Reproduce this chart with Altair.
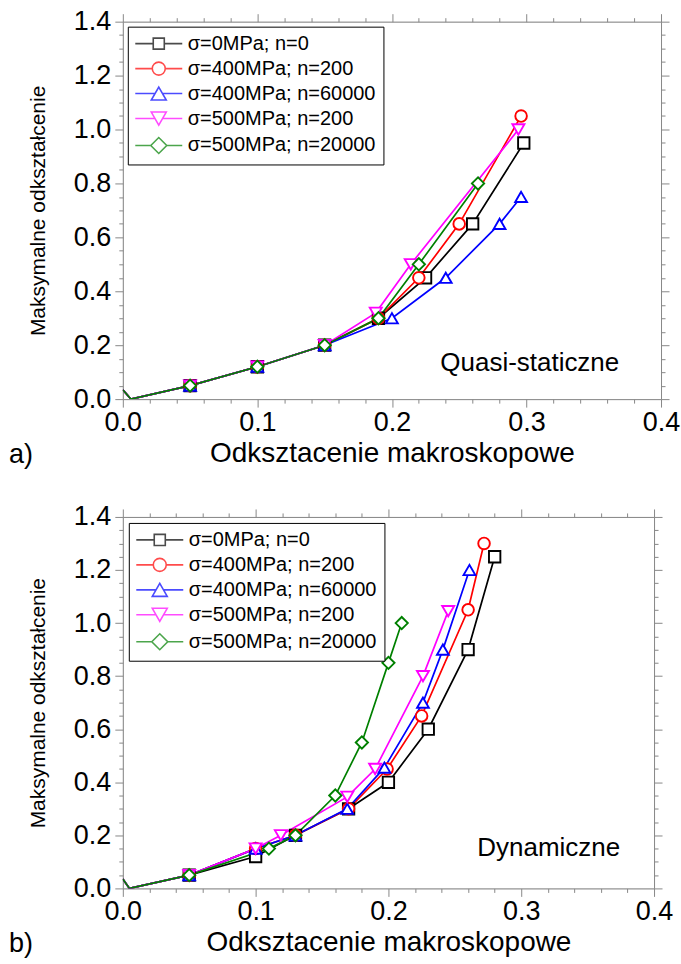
import altair as alt
import pandas as pd

SERIES = ["σ=0MPa; n=0", "σ=400MPa; n=200", "σ=400MPa; n=60000",
          "σ=500MPa; n=200", "σ=500MPa; n=20000"]
COLORS = ["#000000", "#ff0000", "#0000ff", "#ff00ff", "#008000"]
SHAPES = ["square", "circle", "triangle-up", "triangle-down", "diamond"]
SIZES = [130, 150, 250, 250, 290]

# legend symbols: marker with a line through it (unit = 7 px)
LEG_PATHS = [
    "M-3.36,0L-0.79,0M0.79,0L3.36,0M-0.79,-0.79L0.79,-0.79L0.79,0.79L-0.79,0.79Z",
    "M-3.36,0L-0.93,0M0.93,0L3.36,0M0.93,0A0.93,0.93,0,1,1,-0.93,0A0.93,0.93,0,1,1,0.93,0Z",
    "M-3.36,0L-0.54,0M0.54,0L3.36,0M0,-0.93L1.07,0.93L-1.07,0.93Z",
    "M-3.36,0L-0.54,0M0.54,0L3.36,0M0,0.93L1.07,-0.93L-1.07,-0.93Z",
    "M-3.36,0L-1.14,0M1.14,0L3.36,0M-1.14,0L0,-1.14L1.14,0L0,1.14Z",
]

# ---- panel a) Quasi-statyczne ----
a_x0 = [0.0, 0.006, 0.05, 0.10, 0.15, 0.19, 0.225, 0.26, 0.298]
a_y0 = [0.035, 0.0, 0.05, 0.12, 0.20, 0.30, 0.45, 0.65, 0.95]
a_x1 = [0.0, 0.006, 0.05, 0.10, 0.15, 0.19, 0.22, 0.25, 0.296]
a_y1 = [0.035, 0.0, 0.05, 0.12, 0.20, 0.30, 0.45, 0.65, 1.05]
a_x2 = [0.0, 0.006, 0.05, 0.10, 0.15, 0.20, 0.24, 0.28, 0.296]
a_y2 = [0.035, 0.0, 0.05, 0.12, 0.20, 0.30, 0.45, 0.65, 0.75]
a_x3 = [0.0, 0.006, 0.05, 0.10, 0.15, 0.188, 0.214, 0.294]
a_y3 = [0.035, 0.0, 0.05, 0.12, 0.20, 0.32, 0.50, 1.00]
a_x4 = [0.0, 0.006, 0.05, 0.10, 0.15, 0.19, 0.22, 0.264]
a_y4 = [0.035, 0.0, 0.05, 0.12, 0.20, 0.30, 0.50, 0.80]

# ---- panel b) Dynamiczne ----
b_x0 = [0.0, 0.005, 0.05, 0.10, 0.13, 0.17, 0.20, 0.23, 0.26, 0.28]
b_y0 = [0.035, 0.0, 0.05, 0.12, 0.20, 0.30, 0.40, 0.60, 0.90, 1.25]
b_x1 = [0.0, 0.005, 0.05, 0.10, 0.13, 0.17, 0.199, 0.225, 0.26, 0.272]
b_y1 = [0.035, 0.0, 0.05, 0.15, 0.20, 0.30, 0.45, 0.65, 1.05, 1.30]
b_x2 = [0.0, 0.005, 0.05, 0.10, 0.13, 0.169, 0.197, 0.226, 0.241, 0.261]
b_y2 = [0.035, 0.0, 0.05, 0.15, 0.20, 0.30, 0.455, 0.70, 0.90, 1.20]
b_x3 = [0.0, 0.005, 0.05, 0.10, 0.119, 0.169, 0.19, 0.226, 0.245]
b_y3 = [0.035, 0.0, 0.05, 0.15, 0.20, 0.345, 0.45, 0.80, 1.045]
b_x4 = [0.0, 0.005, 0.05, 0.11, 0.13, 0.16, 0.18, 0.20, 0.21]
b_y4 = [0.035, 0.0, 0.05, 0.15, 0.20, 0.35, 0.55, 0.85, 1.00]

X_TICKS = [round(i * 0.02, 2) for i in range(21)]
Y_TICKS = [round(i * 0.05, 2) for i in range(29)]
X_TITLE = "Odksztacenie makroskopowe"
Y_TITLE = "Maksymalne odkształcenie"
ANNOT_A = ["Quasi-staticzne"]
ANNOT_B = ["Dynamiczne"]
LABEL_A = ["a)"]
LABEL_B = ["b)"]

FONT = "Liberation Sans"
X_MAJOR = "abs(datum.value*10 - round(datum.value*10)) < 0.001"
Y_MAJOR = "abs(datum.value*5 - round(datum.value*5)) < 0.001"


def build_df(xs, ys):
    rows = []
    for s, xv, yv in zip(SERIES, xs, ys):
        for i, (a, b) in enumerate(zip(xv, yv)):
            rows.append({"series": s, "x": a, "y": b, "idx": i})
    return pd.DataFrame(rows)


def x_axis(orient, labels, title=None):
    kw = dict(orient=orient, values=X_TICKS, labels=labels, tickSize=8,
              tickDash={"condition": {"test": "!(" + X_MAJOR + ")", "value": [4, 30]},
                        "value": [10, 0]},
              grid=False, labelOverlap=False, labelFlush=False,
              labelExpr="(" + X_MAJOR + ") ? format(datum.value, '.1f') : ''",
              labelPadding=2, labelFontSize=27, labelFont=FONT)
    if title:
        kw.update(title=title, titleFontSize=28, titleFont=FONT,
                  titleFontWeight="normal", titlePadding=4)
    else:
        kw.update(title=None)
    return alt.Axis(**kw)


def y_axis(orient, labels, title=None):
    kw = dict(orient=orient, values=Y_TICKS, labels=labels, tickSize=8,
              tickDash={"condition": {"test": "!(" + Y_MAJOR + ")", "value": [4, 30]},
                        "value": [10, 0]},
              grid=False, labelOverlap=False, labelFlush=False,
              labelExpr="(" + Y_MAJOR + ") ? format(datum.value, '.1f') : ''",
              labelPadding=4, labelFontSize=27, labelFont=FONT)
    if title:
        kw.update(title=title, titleFontSize=21, titleFont=FONT,
                  titleFontWeight="normal", titlePadding=25)
    else:
        kw.update(title=None)
    return alt.Axis(**kw)


def panel(df, w, h, annot, annot_xy, label, label_xy, legend_xy):
    xs = alt.Scale(domain=[0, 0.4], nice=False, zero=False)
    ys = alt.Scale(domain=[0, 1.4], nice=False, zero=False)
    cscale = alt.Scale(domain=SERIES, range=COLORS)
    base = alt.Chart(df)

    lines = base.mark_line(strokeWidth=1.7, clip=True).encode(
        x=alt.X("x:Q", scale=xs, axis=x_axis("top", False)),
        y=alt.Y("y:Q", scale=ys, axis=y_axis("right", False)),
        color=alt.Color("series:N", scale=cscale, legend=None),
        order="idx:Q",
    )
    points = base.transform_filter("datum.x > 0.02").mark_point(
        filled=False, fill="white", strokeWidth=1.9, opacity=1, clip=True
    ).encode(
        x=alt.X("x:Q", scale=xs, axis=x_axis("bottom", True, X_TITLE)),
        y=alt.Y("y:Q", scale=ys, axis=y_axis("left", True, Y_TITLE)),
        color=alt.Color("series:N", scale=cscale, legend=None),
        shape=alt.Shape("series:N", scale=alt.Scale(domain=SERIES, range=SHAPES), legend=None),
        size=alt.Size("series:O", scale=alt.Scale(domain=SERIES, range=SIZES), legend=None),
    )
    leg = alt.Legend(orient="none", legendX=legend_xy[0], legendY=legend_xy[1], title=None,
                     labelFont=FONT, labelFontSize=20, labelColor="black",
                     symbolSize=196, symbolStrokeWidth=1.6, strokeColor="black",
                     fillColor="white", padding=7, rowPadding=5, symbolOffset=14,
                     labelOffset=19, labelLimit=400)
    legend_layer = base.transform_filter("datum.x < -1").mark_point(
        filled=False, strokeWidth=1.6
    ).encode(
        x=alt.X("x:Q", scale=xs, axis=None),
        y=alt.Y("y:Q", scale=ys, axis=None),
        color=alt.Color("series:N", scale=cscale, legend=leg),
        shape=alt.Shape("series:N", scale=alt.Scale(domain=SERIES, range=LEG_PATHS), legend=leg),
    )
    annot_layer = alt.Chart(pd.DataFrame({"t": annot})).mark_text(
        align="left", baseline="middle", fontSize=26, font=FONT, color="black"
    ).encode(text="t:N", x=alt.value(annot_xy[0]), y=alt.value(annot_xy[1]))
    label_layer = alt.Chart(pd.DataFrame({"t": label})).mark_text(
        align="left", baseline="middle", fontSize=27, font=FONT, color="black"
    ).encode(text="t:N", x=alt.value(label_xy[0]), y=alt.value(label_xy[1]))

    return alt.layer(lines, points, legend_layer, annot_layer, label_layer).resolve_scale(
        color="independent", shape="independent", size="independent"
    ).resolve_axis(x="independent", y="independent").properties(width=w, height=h)


df_a = build_df([a_x0, a_x1, a_x2, a_x3, a_x4], [a_y0, a_y1, a_y2, a_y3, a_y4])
df_b = build_df([b_x0, b_x1, b_x2, b_x3, b_x4], [b_y0, b_y1, b_y2, b_y3, b_y4])

top = panel(df_a, 539, 378, ANNOT_A, (318, 342), LABEL_A, (-114, 434), (5, 5))
bottom = panel(df_b, 532, 372, ANNOT_B, (355, 332), LABEL_B, (-114, 428), (6, 6))

chart = alt.vconcat(top, bottom, spacing=33).resolve_scale(
    color="independent", shape="independent", size="independent"
).properties(
    padding={"left": 8, "top": 6, "right": 0, "bottom": 0}
).configure_view(
    stroke="black", strokeWidth=1
).configure_axis(
    domainColor="black", tickColor="black", labelColor="black", titleColor="black",
    domainWidth=1, tickWidth=1
).configure(background="white")

chart.save("out.html", embed_options={"renderer": "svg", "actions": False})
